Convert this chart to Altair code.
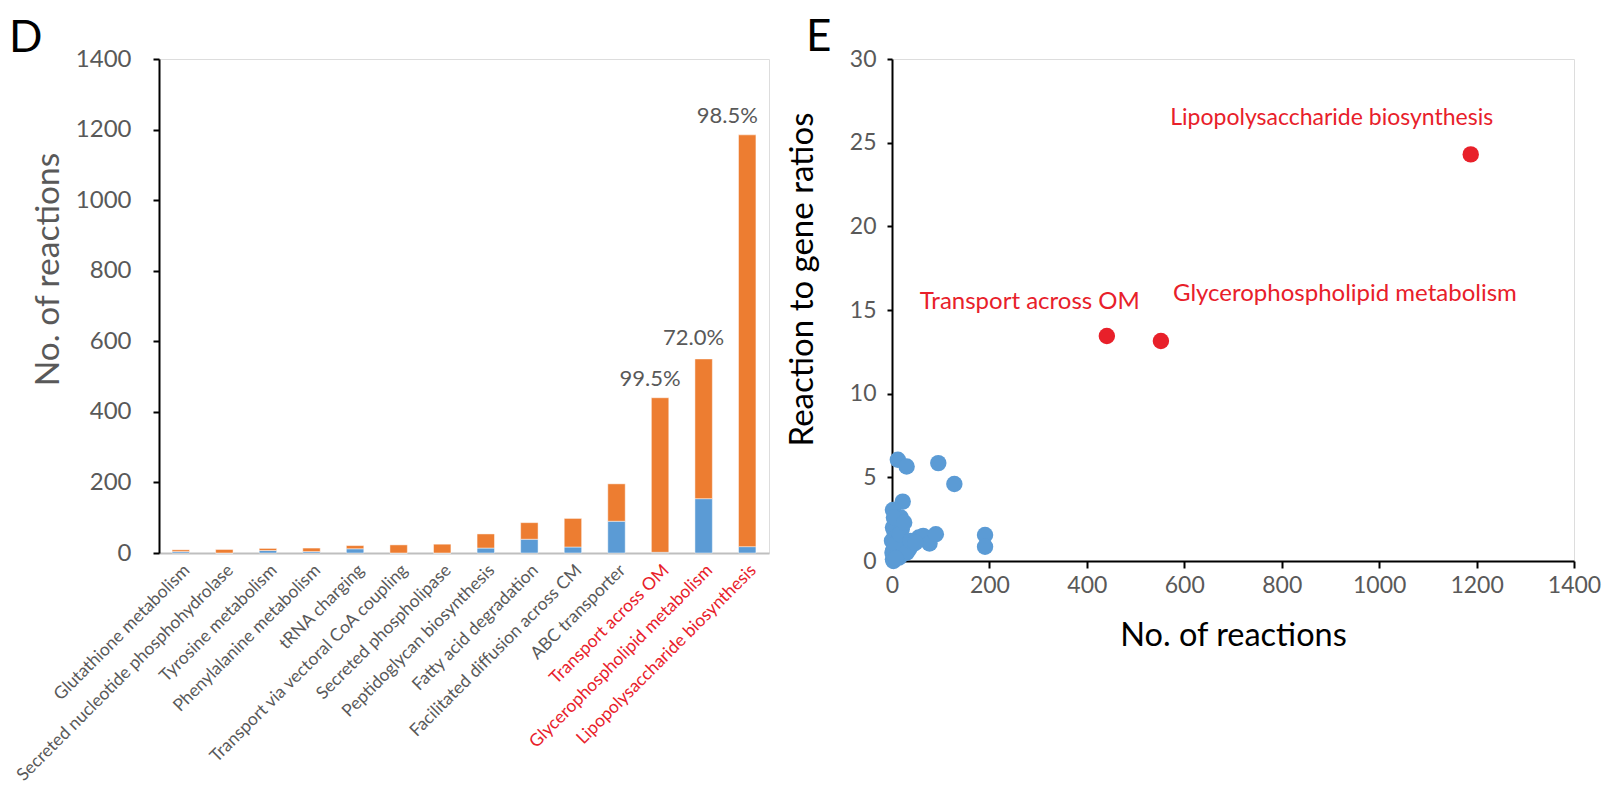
import json
import altair as alt
import pandas as pd

FONT = "Lato"
GRAY = "#595959"
RED = "#E8202A"
BLUE = "#5B9BD5"
ORANGE = "#ED7D31"

# ---------------- Panel D data ----------------
categories = [
    "Glutathione metabolism",
    "Secreted nucleotide phosphohydrolase",
    "Tyrosine metabolism",
    "Phenylalanine metabolism",
    "tRNA charging",
    "Transport via vectoral CoA coupling",
    "Secreted phospholipase",
    "Peptidoglycan biosynthesis",
    "Fatty acid degradation",
    "Facilitated diffusion across CM",
    "ABC transporter",
    "Transport across OM",
    "Glycerophospholipid metabolism",
    "Lipopolysaccharide biosynthesis",
]
blue_vals = [4, 0, 7, 4, 12, 0, 0, 14, 39, 17, 90, 2, 154, 18]
orange_vals = [5, 10, 6, 10, 9, 23, 25, 40, 47, 81, 106, 438, 396, 1167]
highlight = ["Transport across OM", "Glycerophospholipid metabolism", "Lipopolysaccharide biosynthesis"]
pct_text = ["99.5%", "72.0%", "98.5%"]

# ---------------- Panel E data ----------------
blue_x = [12, 30, 95, 128, 22, 2, 18, 9, 2, 12, 5, 20, 0, 8, 15, 28, 2, 10, 2, 5,
          22, 43, 35, 55, 64, 77, 90, 191, 191, 3, 1, 6, 14, 30, 4, 16, 25, 8, 38, 48]
blue_y = [6.05, 5.65, 5.85, 4.6, 3.55, 3.05, 2.6, 2.4, 2.0, 2.1, 1.75, 1.9, 1.2, 1.4, 1.3, 1.0, 0.6, 0.8, 0.1, 0.3,
          0.4, 1.0, 0.7, 1.4, 1.5, 1.05, 1.6, 1.55, 0.85, 0.0, 0.5, 1.0, 0.2, 0.5, 2.6, 1.6, 2.3, 0.15, 1.2, 1.1]
red_names = highlight
red_x = [441, 552, 1188]
red_y = [13.45, 13.15, 24.3]
panel_letters = ["D", "E"]

# ---------------- Panel D chart ----------------
rows = []
for c, b, o in zip(categories, blue_vals, orange_vals):
    rows.append({"cat": c, "series": "A", "val": b, "ord": 0})
    rows.append({"cat": c, "series": "B", "val": o, "ord": 1})
bar_df = pd.DataFrame(rows)
tot_df = pd.DataFrame({"cat": categories,
                       "total": [b + o for b, o in zip(blue_vals, orange_vals)]})
pct_df = tot_df[tot_df["cat"].isin(highlight)].copy()
pct_df["txt"] = pct_text

label_color_expr = "indexof(%s, datum.value) >= 0 ? '%s' : '%s'" % (json.dumps(highlight), RED, GRAY)

xband = alt.X(
    "cat:N", sort=categories,
    scale=alt.Scale(paddingInner=0.6, paddingOuter=0.3),
    axis=alt.Axis(title=None, labelAngle=-45, labelFontSize=17.5, labelFont=FONT,
                  labelColor={"expr": label_color_expr}, labelLimit=0,
                  domainColor="#BFBFBF", domainWidth=2, ticks=False, labelPadding=8),
)
yq = alt.Y(
    "val:Q", stack="zero",
    scale=alt.Scale(domain=[0, 1400]),
    axis=alt.Axis(values=list(range(0, 1401, 200)), format="d", title="No. of reactions",
                  titleFontSize=33.5, titleColor=GRAY, titleFontWeight="normal", titleFont=FONT,
                  titleY=210, titleAlign="center", labelFlush=False,
                  labelFontSize=24, labelColor=GRAY, labelFont=FONT, labelPadding=22,
                  tickSize=6, tickColor="black", tickWidth=2,
                  domainColor="black", domainWidth=2, grid=False, titlePadding=10),
)

bars = alt.Chart(bar_df).mark_bar(stroke="white", strokeWidth=0.8, strokeOpacity=0.6).encode(
    x=xband,
    y=yq,
    color=alt.Color("series:N", scale=alt.Scale(domain=["A", "B"], range=[BLUE, ORANGE]), legend=None),
    order=alt.Order("ord:Q", sort="ascending"),
)

def pct_layer(name, dx, dy):
    return alt.Chart(pct_df).transform_filter(alt.datum.cat == name).mark_text(
        font=FONT, fontSize=22, color=GRAY, baseline="bottom", align="center", dx=dx, dy=dy
    ).encode(x=alt.X("cat:N", sort=categories), y=alt.Y("total:Q"), text="txt:N")

pct_layers = [pct_layer(highlight[0], -10, -7),
              pct_layer(highlight[1], -10, -9),
              pct_layer(highlight[2], -20, -7)]

letter_d = alt.Chart(pd.DataFrame({"t": [panel_letters[0]]})).mark_text(
    font=FONT, fontSize=44, color="black", align="left", baseline="top"
).encode(text="t:N", x=alt.value(-150), y=alt.value(-42))

chart_d = alt.layer(bars, *pct_layers, letter_d).properties(width=610, height=494)

# ---------------- Panel E chart ----------------
blue_df = pd.DataFrame({"x": blue_x, "y": blue_y})
red_df = pd.DataFrame({"name": red_names, "x": red_x, "y": red_y})

xs = alt.X("x:Q", scale=alt.Scale(domain=[0, 1400]),
           axis=alt.Axis(values=list(range(0, 1401, 200)), format="d", title="No. of reactions",
                         titleFontSize=32.5, titleColor="black", titleFontWeight="normal", titleFont=FONT,
                         labelFontSize=23, labelColor=GRAY, labelFont=FONT, labelPadding=6,
                         labelFlush=False,
                         tickSize=7, tickColor="black", tickWidth=2,
                         domainColor="black", domainWidth=2, grid=False, titlePadding=22))
ys = alt.Y("y:Q", scale=alt.Scale(domain=[0, 30]),
           axis=alt.Axis(values=list(range(0, 31, 5)), format="d", title="Reaction to gene ratios",
                         titleFontSize=33, titleColor="black", titleFontWeight="normal", titleFont=FONT,
                         titleY=220, titleAlign="center", labelFlush=False,
                         labelFontSize=23, labelColor=GRAY, labelFont=FONT, labelPadding=11,
                         tickSize=5, tickColor="black", tickWidth=2,
                         domainColor="black", domainWidth=2, grid=False, titlePadding=30))

blue_pts = alt.Chart(blue_df).mark_circle(size=270, opacity=1, color=BLUE).encode(x=xs, y=ys)
red_pts = alt.Chart(red_df).mark_circle(size=270, opacity=1, color=RED).encode(x="x:Q", y="y:Q")

def ann_layer(name, dx, dy, size):
    return alt.Chart(red_df).transform_filter(alt.datum.name == name).mark_text(
        font=FONT, fontSize=size, color=RED, align="center", baseline="middle", dx=dx, dy=dy
    ).encode(x="x:Q", y="y:Q", text="name:N")

ann_layers = [ann_layer(red_names[0], -77, -34, 24),
              ann_layer(red_names[1], 184, -47, 24),
              ann_layer(red_names[2], -139, -36, 23)]

letter_e = alt.Chart(pd.DataFrame({"t": [panel_letters[1]]})).mark_text(
    font=FONT, fontSize=44, color="black", align="left", baseline="top"
).encode(text="t:N", x=alt.value(-86), y=alt.value(-43))

chart_e = alt.layer(blue_pts, red_pts, *ann_layers, letter_e).properties(width=682, height=502)

chart = alt.hconcat(chart_d, chart_e, spacing=15).properties(
    padding={"left": 0, "top": 7, "right": 0, "bottom": 0}
).configure_view(stroke="black", strokeWidth=2).configure(font=FONT)

chart.save("out.html", embed_options={"renderer": "svg", "actions": False})
